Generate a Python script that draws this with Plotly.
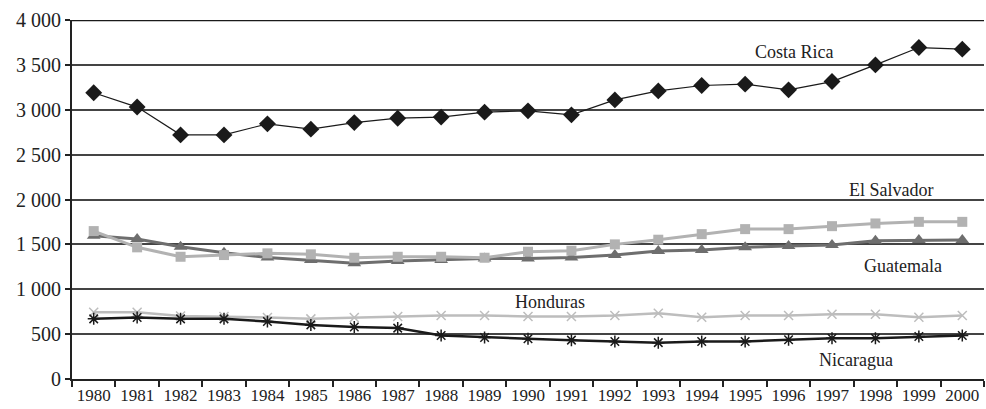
import plotly.graph_objects as go

years = [str(y) for y in range(1980, 2001)]
costa_rica = [3190, 3030, 2720, 2720, 2843, 2784, 2857, 2906, 2918, 2973, 2988, 2943, 3110, 3210, 3270, 3285, 3222, 3314, 3500, 3693, 3675]
el_salvador = [1648, 1467, 1362, 1381, 1400, 1389, 1351, 1362, 1362, 1351, 1418, 1429, 1500, 1552, 1614, 1670, 1670, 1703, 1733, 1751, 1751]
guatemala = [1596, 1559, 1474, 1407, 1355, 1326, 1289, 1314, 1326, 1344, 1344, 1355, 1381, 1426, 1437, 1467, 1481, 1492, 1540, 1548, 1548]
honduras = [744, 744, 703, 696, 685, 670, 685, 696, 707, 707, 696, 696, 707, 733, 689, 707, 707, 722, 722, 689, 707]
nicaragua = [670, 685, 670, 670, 640, 603, 580, 567, 484, 462, 448, 433, 418, 405, 418, 418, 437, 455, 455, 474, 485]

y_ticks = [0, 500, 1000, 1500, 2000, 2500, 3000, 3500, 4000]
y_tick_text = ["0", "500", "1 000", "1 500", "2 000", "2 500", "3 000", "3 500", "4 000"]

labels = ["Costa Rica", "El Salvador", "Guatemala", "Honduras", "Nicaragua"]
label_x = [16.13, 18.36, 18.64, 10.5, 17.56]
label_y = [3645, 2108, 1254, 857, 215]

FONT = "Liberation Serif"

fig = go.Figure()
fig.add_trace(go.Scatter(x=years, y=guatemala, mode="lines+markers",
                         line=dict(color="#6e6e6e", width=3),
                         marker=dict(symbol="triangle-up", size=12, color="#6e6e6e")))
fig.add_trace(go.Scatter(x=years, y=el_salvador, mode="lines+markers",
                         line=dict(color="#b2b2b2", width=3),
                         marker=dict(symbol="square", size=10, color="#b2b2b2")))
fig.add_trace(go.Scatter(x=years, y=honduras, mode="lines+markers",
                         line=dict(color="#bdbdbd", width=2.5),
                         marker=dict(symbol="x-thin-open", size=9, color="#bdbdbd",
                                     line=dict(color="#bdbdbd", width=1.5))))
fig.add_trace(go.Scatter(x=years, y=nicaragua, mode="lines+markers",
                         line=dict(color="#1a1a1a", width=2.5),
                         marker=dict(symbol="asterisk-open", size=10, color="#1a1a1a",
                                     line=dict(color="#1a1a1a", width=1.5))))
fig.add_trace(go.Scatter(x=years, y=costa_rica, mode="lines+markers",
                         line=dict(color="#1a1a1a", width=1.2),
                         marker=dict(symbol="diamond", size=13, color="#1a1a1a")))

for t, x, y in zip(labels, label_x, label_y):
    fig.add_annotation(x=x, y=y, xref="x", yref="y", text=t, showarrow=False,
                       font=dict(family=FONT, size=18, color="#222222"))

fig.add_shape(type="line", xref="paper", yref="y", x0=0, x1=1, y0=4000, y1=4000,
              line=dict(color="#1a1a1a", width=2.5))

fig.update_layout(
    width=986, height=409,
    margin=dict(l=72, r=2, t=20, b=30),
    paper_bgcolor="white", plot_bgcolor="white",
    showlegend=False,
    font=dict(family=FONT, color="#222222"),
)
fig.update_xaxes(type="category", categoryorder="array", categoryarray=years,
                 tickson="boundaries", ticks="outside", ticklen=6, tickcolor="#222222",
                 tickwidth=1.5, showgrid=False, showline=True, linecolor="#222222",
                 linewidth=2, tickfont=dict(family=FONT, size=17, color="#222222"),
                 tickangle=0, range=[-0.5, 20.5])
fig.update_yaxes(range=[0, 4000], tickvals=y_ticks, ticktext=y_tick_text,
                 showgrid=True, gridcolor="#444444", gridwidth=1.5,
                 showline=True, linecolor="#222222", linewidth=2,
                 ticks="outside", ticklen=5, tickcolor="#222222", tickwidth=1.5,
                 zeroline=False, tickfont=dict(family=FONT, size=20, color="#222222"))

fig.write_html("out.html", config={"displayModeBar": False},
               post_script="document.body.style.margin='0';document.body.style.overflow='hidden';")
